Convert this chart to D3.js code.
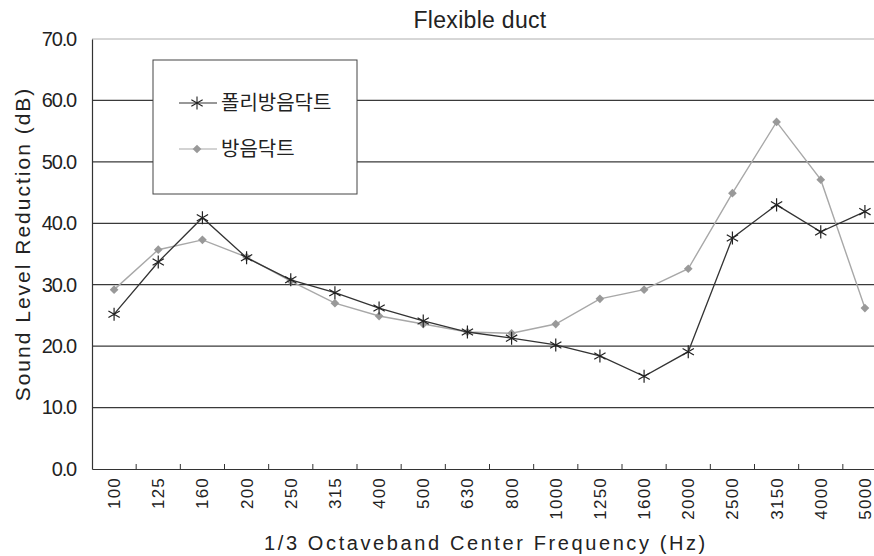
<!DOCTYPE html>
<html><head><meta charset="utf-8">
<script src="https://cdn.jsdelivr.net/npm/d3@7"></script>
<style>body{margin:0;background:#fff}svg{display:block}text{font-family:"Liberation Sans",Arial,sans-serif;fill:#222}</style>
</head><body><div id="chart"></div>
<script>
const categories = ["100","125","160","200","250","315","400","500","630","800","1000","1250","1600","2000","2500","3150","4000","5000"];
const polyValues = [25.2,33.7,40.9,34.4,30.8,28.7,26.2,24.1,22.3,21.3,20.2,18.4,15.1,19.1,37.6,43.0,38.6,41.9];
const ductValues = [29.2,35.7,37.3,34.5,30.6,27.0,24.9,23.6,22.3,22.1,23.6,27.7,29.2,32.6,44.9,56.5,47.1,26.2];
const seriesNames = ["폴리방음닥트","방음닥트"];
const yTicks = [0,10,20,30,40,50,60,70];
const titleText = "Flexible duct";
const xTitle = "1/3 Octaveband Center Frequency (Hz)";
const yTitle = "Sound Level Reduction (dB)";

(function () {
const W = 874, H = 556;
const svg = d3.select("#chart").append("svg").attr("width", W).attr("height", H);
const mLeft = 92, mRight = 887, mTop = 39, mBottom = 469;
const x = d3.scaleBand().domain(categories).range([mLeft, mRight]);
const y = d3.scaleLinear().domain([0, 70]).range([mBottom, mTop]);

svg.append("g").selectAll("line").data(yTicks.filter(d => d > 0)).join("line")
  .attr("x1", mLeft).attr("x2", W).attr("y1", d => y(d)).attr("y2", d => y(d))
  .attr("stroke", d => d === 70 ? "#999" : "#3a3a3a").attr("stroke-width", d => d === 70 ? 0.8 : 1.3);

const ya = svg.append("g").attr("transform", `translate(${mLeft},0)`)
  .call(d3.axisLeft(y).tickValues(yTicks).tickFormat(d3.format(".1f")).tickSize(0).tickPadding(16));
ya.select(".domain").attr("stroke", "#333").attr("stroke-width", 1.2);
ya.selectAll("text").style("font-size", "20px").attr("fill", "#222").style("letter-spacing", "-1.2px");

const xa = svg.append("g").attr("transform", `translate(0,${mBottom})`)
  .call(d3.axisBottom(x).tickSize(0).tickPadding(0));
xa.select(".domain").attr("stroke", "#333").attr("stroke-width", 1.2);
xa.selectAll(".tick text").style("font-size", "17px").attr("fill", "#222")
  .attr("transform", "rotate(-90)").attr("text-anchor", "end")
  .attr("x", -8).attr("y", 0).attr("dy", "0.35em").style("letter-spacing", "1.2px");
svg.append("g").selectAll("line").data(categories.slice(1)).join("line")
  .attr("x1", d => x(d)).attr("x2", d => x(d)).attr("y1", mBottom).attr("y2", mBottom - 5)
  .attr("stroke", "#333").attr("stroke-width", 1);

const lg = svg.append("g");
lg.append("rect").attr("x", 153).attr("y", 60).attr("width", 204).attr("height", 134)
  .attr("fill", "#fff").attr("stroke", "#444").attr("stroke-width", 1);

const line = d3.line().x((d, i) => x(categories[i]) + x.bandwidth() / 2).y(d => y(d));
const star = d3.symbol().type(d3.symbolAsterisk).size(120);
const diamond = d3.symbol().type(d3.symbolSquare).size(38);

svg.append("path").datum(ductValues).attr("d", line).attr("fill", "none").attr("stroke", "#a8a8a8").attr("stroke-width", 1.4);
svg.append("g").selectAll("path").data(ductValues).join("path")
  .attr("transform", (d, i) => `translate(${x(categories[i]) + x.bandwidth() / 2},${y(d)}) rotate(45)`)
  .attr("d", diamond).attr("fill", "#999");

svg.append("path").datum(polyValues).attr("d", line).attr("fill", "none").attr("stroke", "#333").attr("stroke-width", 1.3);
svg.append("g").selectAll("path").data(polyValues).join("path")
  .attr("transform", (d, i) => `translate(${x(categories[i]) + x.bandwidth() / 2},${y(d)})`)
  .attr("d", star).attr("fill", "none").attr("stroke", "#222").attr("stroke-width", 1.2);

const le = [{n: seriesNames[0], yy: 103, c: "#333", s: star, f: "none", st: "#222", r: ""},
            {n: seriesNames[1], yy: 149, c: "#a8a8a8", s: diamond, f: "#999", st: "none", r: " rotate(45)"}];
le.forEach(e => {
  lg.append("line").attr("x1", 179).attr("x2", 217).attr("y1", e.yy).attr("y2", e.yy).attr("stroke", e.c).attr("stroke-width", 1.2);
  lg.append("path").attr("transform", `translate(197,${e.yy})${e.r}`).attr("d", e.s).attr("fill", e.f).attr("stroke", e.st).attr("stroke-width", 1.1);
  lg.append("text").attr("x", 221).attr("y", e.yy).attr("dy", "0.36em").style("font-size", "20px")
    .style("font-family", "'Noto Sans CJK KR',sans-serif").text(e.n);
});

svg.append("text").attr("x", 480).attr("y", 28).attr("text-anchor", "middle").style("font-size", "23px").style("letter-spacing", "0.3px").text(titleText);
svg.append("text").attr("x", 486).attr("y", 550).attr("text-anchor", "middle").style("font-size", "20px").style("letter-spacing", "2.6px").text(xTitle);
svg.append("text").attr("transform", "translate(30,244) rotate(-90)").attr("text-anchor", "middle").style("font-size", "21px").style("letter-spacing", "2px").text(yTitle);
})();
</script></body></html>
